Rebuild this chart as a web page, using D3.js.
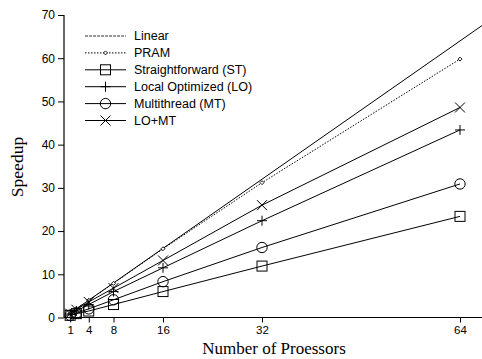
<!DOCTYPE html>
<html><head><meta charset="utf-8">
<script src="https://cdn.jsdelivr.net/npm/d3@7"></script>
<style>body{margin:0;background:#fff}svg{display:block}</style>
</head><body>
<svg id="c" width="482" height="359"></svg>
<script>
const processors = [1, 2, 4, 8, 16, 32, 64];
const linearX = [0, 68];
const pramX = [1, 2, 4, 8, 16, 32, 64];
const pram = [1, 2, 4, 7.9, 15.9, 31.2, 59.8];
const st = [0.5, 0.9, 1.5, 3.0, 6.0, 11.9, 23.4];
const lo = [0.8, 1.5, 3.0, 6.0, 11.5, 22.4, 43.4];
const mt = [0.5, 1.0, 2.0, 4.1, 8.3, 16.2, 30.9];
const lomt = [0.9, 1.8, 3.6, 6.8, 13.2, 26.0, 48.6];
const xTicks = [1, 4, 8, 16, 32, 64];
const yTicks = [0, 10, 20, 30, 40, 50, 60, 70];
const legendLabels = ["Linear", "PRAM", "Straightforward (ST)", "Local Optimized (LO)", "Multithread (MT)", "LO+MT"];

const svg = d3.select("#c");
const x = d3.scaleLinear().domain([0, 64]).range([64, 460]);
const y = d3.scaleLinear().domain([0, 70]).range([317.5, 15]);
const sans = "'Liberation Sans', Arial, sans-serif";
const serif = "'Liberation Serif', 'Times New Roman', serif";

// axes
const yAxis = svg.append("g").attr("transform", "translate(64,0)")
  .call(d3.axisLeft(y).tickValues(yTicks).tickSize(6).tickPadding(3).tickSizeOuter(0));
const xAxis = svg.append("g").attr("transform", "translate(0,317.5)")
  .call(d3.axisBottom(x).tickValues(xTicks).tickSize(5).tickPadding(3).tickSizeOuter(0));
[yAxis, xAxis].forEach(a => {
  a.selectAll("text").attr("font-family", sans).attr("font-size", 12).attr("fill", "#000");
  a.selectAll("line").attr("stroke", "#000");
  a.select(".domain").attr("stroke", "#000").attr("stroke-width", 1.2);
});
xAxis.selectAll("text").attr("font-size", 11.5);
xAxis.select(".domain").attr("d", "M64,0H482");
yAxis.select(".domain").attr("d", "M0,15V317.5");

svg.append("text").attr("x", 274).attr("y", 354).attr("text-anchor", "middle")
  .attr("font-family", serif).attr("font-size", 17).text("Number of Proessors");
svg.append("text").attr("transform", "translate(23,167) rotate(-90)").attr("text-anchor", "middle")
  .attr("font-family", serif).attr("font-size", 17.5).text("Speedup");

const line = d3.line().x(d => x(d[0])).y(d => y(d[1]));
const g = svg.append("g");

// markers
function marker(sel, type, cx, cy) {
  if (type === "square") sel.append("rect").attr("x", cx - 5).attr("y", cy - 5).attr("width", 10).attr("height", 10).attr("fill", "none").attr("stroke", "#000");
  else if (type === "circle") sel.append("circle").attr("cx", cx).attr("cy", cy).attr("r", 5.2).attr("fill", "none").attr("stroke", "#000");
  else if (type === "plus") sel.append("path").attr("d", `M${cx-5},${cy}H${cx+5}M${cx},${cy-5}V${cy+5}`).attr("stroke", "#000").attr("fill", "none");
  else if (type === "cross") sel.append("path").attr("d", `M${cx-5},${cy-5}L${cx+5},${cy+5}M${cx-5},${cy+5}L${cx+5},${cy-5}`).attr("stroke", "#000").attr("fill", "none");
  else if (type === "diamond") sel.append("path").attr("d", `M${cx},${cy-2}L${cx+2},${cy}L${cx},${cy+2}L${cx-2},${cy}Z`).attr("stroke", "#000").attr("fill", "#fff").attr("stroke-width", 0.9);
}

const series = [
  {xs: linearX, ys: linearX, type: null, dash: null},
  {xs: pramX, ys: pram, type: "diamond", dash: "1.5,1.5"},
  {xs: processors, ys: st, type: "square", dash: null},
  {xs: processors, ys: lo, type: "plus", dash: null},
  {xs: processors, ys: mt, type: "circle", dash: null},
  {xs: processors, ys: lomt, type: "cross", dash: null}
];
series.forEach(s => {
  const pts = s.xs.map((v, i) => [v, s.ys[i]]);
  g.append("path").attr("d", line(pts)).attr("fill", "none").attr("stroke", "#000")
    .attr("stroke-width", 1).attr("stroke-dasharray", s.dash);
  if (s.type) pts.forEach(p => marker(g, s.type, x(p[0]), y(p[1])));
});

// legend
const leg = svg.append("g");
legendLabels.forEach((lab, i) => {
  const yy = 36 + i * 16.9;
  const s = series[i];
  leg.append("line").attr("x1", 85).attr("x2", 126).attr("y1", yy).attr("y2", yy)
    .attr("stroke", i === 0 ? "#333" : "#000").attr("stroke-width", 1)
    .attr("stroke-dasharray", i === 0 ? "3,1" : s.dash);
  if (s.type) marker(leg, s.type, 105.5, yy);
  leg.append("text").attr("x", 134).attr("y", yy + 4.3).attr("font-family", sans).attr("font-size", 12.5).text(lab);
});
</script>
</body></html>
